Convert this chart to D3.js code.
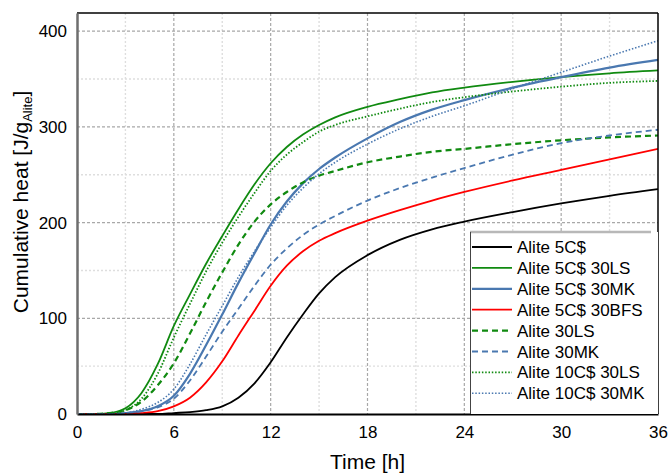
<!DOCTYPE html>
<html>
<head>
<meta charset="utf-8">
<script src="https://cdn.jsdelivr.net/npm/d3@7"></script>
<style>
  body { margin: 0; background: #fff; }
  text { font-family: Arial, "Liberation Sans", sans-serif; fill: #000; }
</style>
</head>
<body>
<script>
const svgWidth = 668
const svgHeight = 475

// plot box in pixels
const plotLeft = 77, plotRight = 658, plotTop = 13, plotBottom = 414

const hours = [0, 1, 2, 3, 4, 5, 6, 7, 8, 9, 10, 11, 12, 13, 14, 15, 16, 18, 20, 22, 24, 27, 30, 33, 36]

const alite5C = [0, 0, 0, 0, 0, 0, 1, 2, 4, 8, 17, 32, 54, 80, 104, 126, 143, 166, 182, 193, 201, 211, 220, 228, 235]
const alite5C30LS = [0, 0, 1, 6, 22, 52, 92, 125, 157, 186, 214, 240, 262, 279, 292, 302, 310, 321, 329, 336, 341, 347, 352, 356, 359]
const alite5C30MK = [0, 0, 0, 1, 3, 8, 19, 42, 72, 104, 137, 168, 198, 222, 241, 256, 268, 288, 305, 318, 328, 341, 352, 362, 370]
const alite5C30BFS = [0, 0, 0, 0, 1, 3, 8, 17, 33, 55, 82, 108, 134, 155, 170, 181, 189, 202, 213, 223, 232, 244, 255, 266, 277]
const alite30LS = [0, 0, 1, 4, 13, 30, 53, 84, 117, 148, 177, 201, 219, 232, 242, 249, 254, 263, 269, 274, 277, 282, 286, 289, 291]
const alite30MK = [0, 0, 0, 1, 3, 7, 16, 35, 60, 86, 110, 134, 156, 173, 187, 198, 207, 223, 236, 247, 257, 271, 283, 291, 297]
const alite10C30LS = [0, 0, 0, 4, 16, 42, 80, 115, 149, 179, 206, 231, 254, 271, 284, 295, 302, 311, 319, 326, 331, 337, 342, 346, 348]
const alite10C30MK = [0, 0, 0, 1, 5, 12, 26, 52, 83, 113, 143, 170, 195, 218, 236, 251, 263, 282, 298, 311, 322, 340, 357, 374, 390]

const xTicks = [0, 6, 12, 18, 24, 30, 36]
const yTicks = [0, 100, 200, 300, 400]

const green = "#108a10", blue = "#4a78b0"
const series = [
  { name: "Alite 5C$", values: alite5C, color: "#000", width: 1.8, dash: null },
  { name: "Alite 5C$ 30LS", values: alite5C30LS, color: green, width: 1.8, dash: null },
  { name: "Alite 5C$ 30MK", values: alite5C30MK, color: blue, width: 2.2, dash: null },
  { name: "Alite 5C$ 30BFS", values: alite5C30BFS, color: "#ff0000", width: 1.8, dash: null },
  { name: "Alite 30LS", values: alite30LS, color: green, width: 2.2, dash: "6,4" },
  { name: "Alite 30MK", values: alite30MK, color: blue, width: 1.8, dash: "6,4" },
  { name: "Alite 10C$ 30LS", values: alite10C30LS, color: green, width: 1.8, dash: "1.5,1.8" },
  { name: "Alite 10C$ 30MK", values: alite10C30MK, color: blue, width: 1.6, dash: "1.5,1.8" }
]

const svg = d3.select("body").append("svg")
  .attr("width", svgWidth)
  .attr("height", svgHeight)

const x = d3.scaleLinear().domain([0, 36]).range([plotLeft, plotRight])
const y = d3.scaleLinear().domain([0, 419]).range([plotBottom, plotTop])

// grid
const grid = svg.append("g")
d3.range(3, 36, 3).forEach(t => {
  const major = t % 6 === 0
  grid.append("line")
    .attr("x1", x(t)).attr("x2", x(t)).attr("y1", plotTop).attr("y2", plotBottom)
    .attr("stroke", major ? "#a8a8a8" : "#dedede")
    .attr("stroke-width", major ? 1.2 : 1.4)
    .attr("stroke-dasharray", major ? "3,2" : "2,2")
})
d3.range(50, 419, 50).forEach(v => {
  const major = v % 100 === 0
  grid.append("line")
    .attr("x1", plotLeft).attr("x2", plotRight).attr("y1", y(v)).attr("y2", y(v))
    .attr("stroke", major ? "#a8a8a8" : "#dedede")
    .attr("stroke-width", major ? 1.2 : 1.4)
    .attr("stroke-dasharray", major ? "3,2" : "2,2")
})

svg.append("clipPath").attr("id", "plot")
  .append("rect").attr("x", plotLeft).attr("y", plotTop)
  .attr("width", plotRight - plotLeft).attr("height", plotBottom - plotTop)

const line = d3.line()
  .x((d, i) => x(hours[i]))
  .y(d => y(d))
  .curve(d3.curveMonotoneX)

svg.append("g").attr("clip-path", "url(#plot)")
  .selectAll("path")
  .data(series)
  .enter()
  .append("path")
  .attr("d", d => line(d.values))
  .attr("fill", "none")
  .attr("stroke", d => d.color)
  .attr("stroke-width", d => d.width)
  .attr("stroke-dasharray", d => d.dash)

// frame
svg.append("line").attr("x1", plotLeft).attr("x2", plotRight).attr("y1", plotTop).attr("y2", plotTop)
  .attr("stroke", "#000").attr("stroke-width", 1.5)
svg.append("line").attr("x1", plotRight).attr("x2", plotRight).attr("y1", plotTop).attr("y2", plotBottom)
  .attr("stroke", "#000").attr("stroke-width", 1.5)

// axes without tick marks
const xAxis = d3.axisBottom(x).tickValues(xTicks).tickSize(0).tickPadding(12)
const yAxis = d3.axisLeft(y).tickValues(yTicks).tickSize(0).tickPadding(10)

const xAxisG = svg.append("g").attr("transform", `translate(0, ${plotBottom})`).call(xAxis)
xAxisG.select(".domain").attr("stroke", "#000").attr("stroke-width", 2)
xAxisG.selectAll("text").attr("font-size", 17).attr("font-family", "Arial, 'Liberation Sans', sans-serif")

const yAxisG = svg.append("g").attr("transform", `translate(${plotLeft}, 0)`).call(yAxis)
yAxisG.select(".domain").attr("stroke", "#6e6e6e").attr("stroke-width", 2.5)
yAxisG.selectAll("text").attr("font-size", 17).attr("font-family", "Arial, 'Liberation Sans', sans-serif")

// axis titles
svg.append("text")
  .attr("x", (plotLeft + plotRight) / 2).attr("y", 469)
  .attr("text-anchor", "middle").attr("font-size", 21)
  .text("Time [h]")

const yTitle = svg.append("text")
  .attr("transform", "translate(28, 202) rotate(-90)")
  .attr("text-anchor", "middle").attr("font-size", 21)
yTitle.append("tspan").text("Cumulative heat [J/g")
yTitle.append("tspan").attr("font-size", 13).attr("dy", 4).text("Alite")
yTitle.append("tspan").attr("dy", -4).text("]")

// legend
const legend = svg.append("g")
legend.append("rect")
  .attr("x", 470).attr("y", 232).attr("width", plotRight - 470).attr("height", plotBottom - 232)
  .attr("fill", "#fff")
legend.append("line").attr("x1", 470).attr("x2", 651).attr("y1", 232).attr("y2", 232)
  .attr("stroke", "#b8b8b8").attr("stroke-width", 2.5)
legend.append("line").attr("x1", 470.5).attr("x2", 470.5).attr("y1", 232).attr("y2", plotBottom)
  .attr("stroke", "#444").attr("stroke-width", 1)

const rows = legend.selectAll(".row")
  .data(series)
  .enter()
  .append("g")
  .attr("transform", (d, i) => `translate(0, ${247 + i * 20.9})`)

rows.append("line")
  .attr("x1", 472).attr("x2", 512)
  .attr("stroke", d => d.color)
  .attr("stroke-width", d => d.width)
  .attr("stroke-dasharray", d => d.dash)

rows.append("text")
  .attr("x", 517).attr("y", 6)
  .attr("font-size", 17)
  .text(d => d.name)
</script>
</body>
</html>
